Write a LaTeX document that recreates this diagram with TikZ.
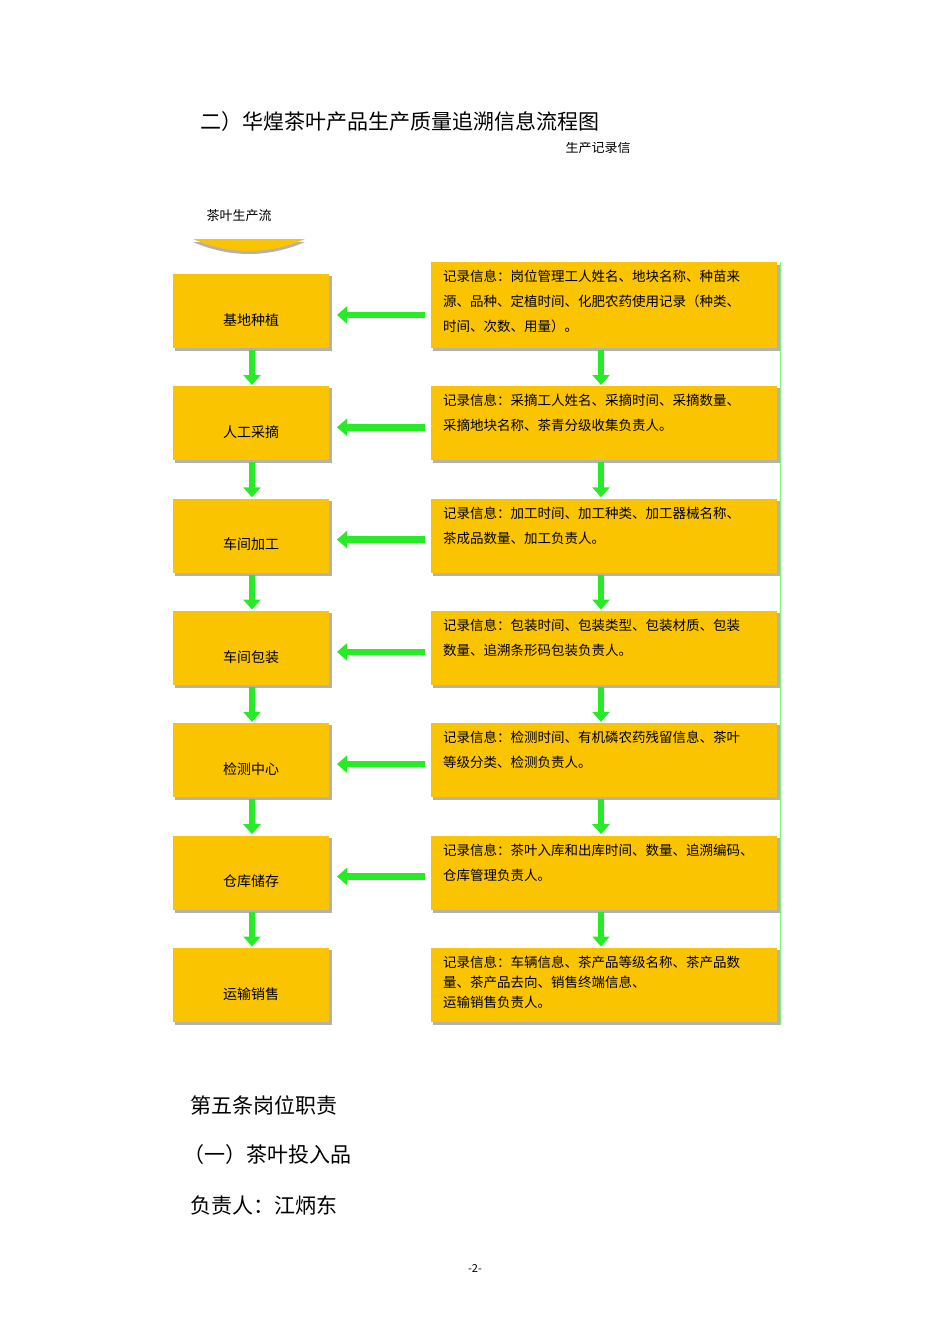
\documentclass[tikz,border=0pt]{standalone}
\usepackage{fontspec}
\setmainfont{Noto Sans CJK SC}
\usetikzlibrary{arrows.meta}
\definecolor{boxy}{RGB}{251,196,0}
\definecolor{grn}{RGB}{40,235,40}
\begin{document}
\begin{tikzpicture}[x=1pt,y=-1pt,
  ybox/.style={fill=boxy,draw=none},
  sh/.style={fill=gray!60},
  garr/.style={-{Triangle[length=10pt,width=17pt]},line width=6.5pt,draw=grn},
  lbl/.style={font=\fontsize{14}{14}\selectfont,anchor=center},
  info/.style={font=\fontsize{13.5}{25}\selectfont,anchor=north west,align=left,inner sep=0pt}]
\useasboundingbox (0,0) rectangle (950,1344);
\node[anchor=west,font=\fontsize{21}{21}\selectfont] (title) at (197,122) {二）华煌茶叶产品生产质量追溯信息流程图};
\begin{scope}
\clip (0,142) rectangle (950,200);
\node[anchor=west,font=\fontsize{13}{13}\selectfont] (t2) at (562,148) {生产记录信};
\end{scope}
\begin{scope}
\clip (0,205) rectangle (950,230);
\node[anchor=west,font=\fontsize{13}{13}\selectfont] (t3) at (203,216) {茶叶生产流};
\end{scope}
\fill[gray!60] (193,242) .. controls (230,258) and (268,258) .. (305,242) -- cycle;
\fill[boxy] (193,239) .. controls (230,255) and (268,255) .. (305,239) -- cycle;
% left boxes
\foreach \i/\t in {0/基地种植,1/人工采摘,2/车间加工,3/车间包装,4/检测中心,5/仓库储存,6/运输销售}{
  \pgfmathsetmacro{\yt}{274+112.3*\i}
  \fill[sh] (175,\yt+2) rectangle (332,\yt+77);
  \fill[boxy] (173,\yt) rectangle (329,\yt+74);
  \node[lbl] (L\i) at (251,\yt+46) {\t};
}
% right boxes
\fill[sh] (433,265) rectangle (780,351);
\fill[boxy] (431,262) rectangle (777,348);
\node[info] (R0) at (443,270) {记录信息：岗位管理工人姓名、地块名称、种苗来\\源、品种、定植时间、化肥农药使用记录（种类、\\时间、次数、用量）。};
\foreach \i/\t in {1/{记录信息：采摘工人姓名、采摘时间、采摘数量、\\采摘地块名称、茶青分级收集负责人。},
  2/{记录信息：加工时间、加工种类、加工器械名称、\\茶成品数量、加工负责人。},
  3/{记录信息：包装时间、包装类型、包装材质、包装\\数量、追溯条形码包装负责人。},
  4/{记录信息：检测时间、有机磷农药残留信息、茶叶\\等级分类、检测负责人。},
  5/{记录信息：茶叶入库和出库时间、数量、追溯编码、\\仓库管理负责人。}}{
  \pgfmathsetmacro{\yt}{274+112.3*\i}
  \fill[sh] (433,\yt+2) rectangle (780,\yt+77);
  \fill[boxy] (431,\yt) rectangle (777,\yt+74);
  \node[info] (R\i) at (443,\yt+8) {\t};
}
\pgfmathsetmacro{\yt}{274+112.3*6}
\fill[sh] (433,\yt+2) rectangle (780,\yt+77);
\fill[boxy] (431,\yt) rectangle (777,\yt+74);
\node[info,font=\fontsize{13.5}{20}\selectfont] (R6) at (443,\yt+8) {记录信息：车辆信息、茶产品等级名称、茶产品数\\量、茶产品去向、销售终端信息、\\运输销售负责人。};
\draw[grn!60,line width=1pt] (780,262) -- (780,1025);
% arrows
\foreach \i in {0,...,5}{
  \pgfmathsetmacro{\ya}{274+112.3*\i+76}
  \pgfmathsetmacro{\yb}{274+112.3*\i+111}
  \draw[garr] (252,\ya) -- (252,\yb);
  \draw[garr] (601,\ya) -- (601,\yb);
}
\foreach \i in {0,...,5}{
  \pgfmathsetmacro{\yc}{274+112.3*\i+41}
  \draw[garr] (425,\yc) -- (337,\yc);
}
\node[anchor=west,font=\fontsize{21}{21}\selectfont] (b1) at (187,1105) {第五条岗位职责};
\node[anchor=west,font=\fontsize{21}{21}\selectfont] (b2) at (180,1155) {（一）茶叶投入品};
\node[anchor=west,font=\fontsize{21}{21}\selectfont] (b3) at (187,1205) {负责人：江炳东};
\node[font=\fontsize{11}{11}\selectfont] (pg) at (475,1268) {-2-};
\end{tikzpicture}
\end{document}
